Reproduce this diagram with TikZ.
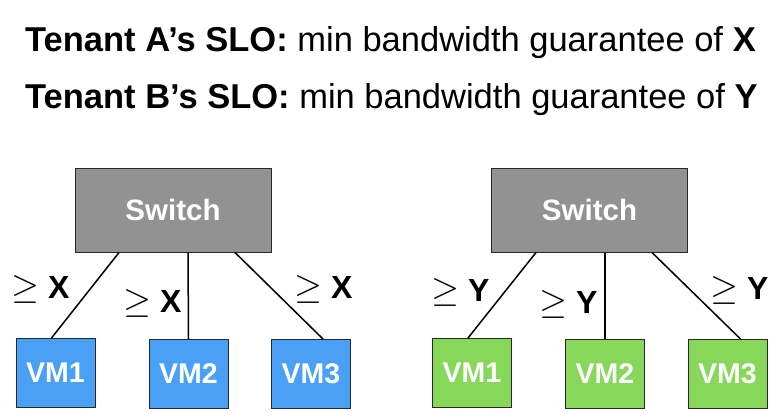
\documentclass[tikz,border=0pt]{standalone}
\usepackage{fontspec}
\setmainfont{Liberation Sans}
\definecolor{swgray}{RGB}{146,146,146}
\definecolor{vmblue}{RGB}{74,160,245}
\definecolor{vmgreen}{RGB}{135,215,90}
\definecolor{edgecol}{RGB}{40,40,40}
\newcommand{\geqlab}[1]{\scalebox{3.6}{\fontsize{10}{12}\selectfont$\geq$} \textbf{#1}}
\begin{document}
\begin{tikzpicture}[x=1pt,y=-1pt,
  title/.style={anchor=base west,inner sep=0pt,font=\fontsize{34.5}{40}\selectfont},
  switchbox/.style={draw=edgecol,line width=1pt,fill=swgray,minimum width=196pt,minimum height=84pt,inner sep=0pt,text=white,font=\fontsize{29.5}{34}\selectfont\bfseries},
  vmbox/.style={draw=edgecol,line width=1pt,minimum width=79pt,minimum height=69pt,inner sep=0pt,text=white,font=\fontsize{28.5}{34}\selectfont\bfseries},
  bluevm/.style={vmbox,fill=vmblue},
  greenvm/.style={vmbox,fill=vmgreen},
  link/.style={line width=1.5pt,black},
  bw/.style={anchor=base west,inner sep=0pt,font=\fontsize{32}{38}\selectfont}
]
\useasboundingbox (0,0) rectangle (784,416);
% titles
\node[title] (t1) at (25,51) {\textbf{Tenant A’s SLO:} min bandwidth guarantee of \textbf{X}};
\node[title] (t2) at (25,108) {\textbf{Tenant B’s SLO:} min bandwidth guarantee of \textbf{Y}};
% left group
\node[switchbox] (swa) at (173,210) {Switch};
\node[bluevm] (a1) at (55.5,373) {VM1};
\node[bluevm] (a2) at (188.5,374) {VM2};
\node[bluevm] (a3) at (311,374) {VM3};
\draw[link] ([xshift=-54pt]swa.south) -- ([xshift=-4pt]a1.north);
\draw[link] ([xshift=15pt]swa.south) -- (a2.north);
\draw[link] ([xshift=62pt]swa.south) -- ([xshift=12pt]a3.north);
\node[bw] (la1) at (11,298) {\geqlab{X}};
\node[bw] (la2) at (123,312) {\geqlab{X}};
\node[bw] (la3) at (294,298) {\geqlab{X}};
% right group
\node[switchbox] (swb) at (589.5,210) {Switch};
\node[greenvm] (b1) at (472,373) {VM1};
\node[greenvm] (b2) at (605,374) {VM2};
\node[greenvm] (b3) at (727.5,374) {VM3};
\draw[link] ([xshift=-53.5pt]swb.south) -- ([xshift=-4pt]b1.north);
\draw[link] ([xshift=15.5pt]swb.south) -- (b2.north);
\draw[link] ([xshift=62.5pt]swb.south) -- ([xshift=13pt]b3.north);
\node[bw] (lb1) at (431,301) {\geqlab{Y}};
\node[bw] (lb2) at (539,313) {\geqlab{Y}};
\node[bw] (lb3) at (710,299) {\geqlab{Y}};
\end{tikzpicture}
\end{document}
